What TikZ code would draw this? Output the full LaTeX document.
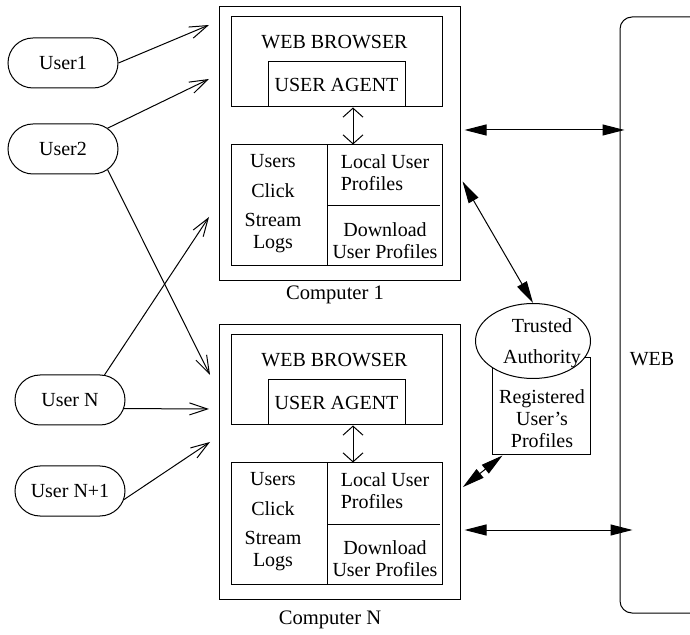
\documentclass[tikz,border=0pt]{standalone}
\usepackage{fontspec}
\setmainfont{Liberation Serif}
\usetikzlibrary{arrows.meta,shapes.geometric,shapes.misc}

\begin{document}
\begin{tikzpicture}[x=0.5pt,y=-0.5pt,line width=0.5pt]
	\tikzstyle{every node}+=[inner sep=0pt, font=\fontsize{10}{11}\selectfont]
	\tikzstyle{user}=[draw, rounded rectangle, minimum width=55pt, minimum height=25pt]
	\tikzstyle{box}=[draw, rectangle]
	\tikzstyle{toarr}=[-{Straight Barb[length=9pt,width=6pt]}]
	\tikzstyle{innerarr}=[{Straight Barb[length=4.5pt,width=10pt]}-{Straight Barb[length=4.5pt,width=10pt]}]
	\tikzstyle{netarr}=[{Triangle[length=11pt,width=5.5pt]}-{Triangle[length=11pt,width=5.5pt]}]
	\tikzstyle{complabel}=[font=\fontsize{10.3}{11}\selectfont]
	\useasboundingbox (0,0) rectangle (690,635);
	\node (user1) [user] at (63,63) {User1};
	\node (user2) [user] at (63,149) {User2};
	\node (userN) [user] at (70,400) {User N};
	\node (userN1) [user] at (70,491) {User N+1};
	\node (comp1) [box, minimum width=120.5pt, minimum height=137pt] at (339.5,144) {};
	\node (browser1) [box, minimum width=105.5pt, minimum height=45pt] at (336.5,62) {};
	\node (agent1) [box, minimum width=68.5pt, minimum height=22.5pt] at (336.5,84.5) {USER AGENT};
	\node (title1) at (334.5,42) {WEB BROWSER};
	\node (store1) [box, minimum width=105.5pt, minimum height=60.5pt] at (336.5,205.5) {};
	\draw (store1.north -| 327,0) -- (store1.south -| 327,0);
	\draw (327,206) -- (440,206);
	\node (logs1) [align=center] at (273,204) {Users\\[4pt]Click\\[3.5pt]Stream\\Logs};
	\node (local1) [align=left] at (385,173) {Local User\\Profiles};
	\node (down1) [align=center] at (385,241) {Download\\User Profiles};
	\node (label1) [complabel] at (335,295) {Computer 1};
	\node (compN) [box, minimum width=120.5pt, minimum height=137pt] at (339.5,462) {};
	\node (browserN) [box, minimum width=105.5pt, minimum height=45pt] at (336.5,380) {};
	\node (agentN) [box, minimum width=68.5pt, minimum height=22.5pt] at (336.5,402.5) {USER AGENT};
	\node (titleN) at (334.5,360) {WEB BROWSER};
	\node (storeN) [box, minimum width=105.5pt, minimum height=60.5pt] at (336.5,523.5) {};
	\draw (storeN.north -| 327,0) -- (storeN.south -| 327,0);
	\draw (327,524) -- (440,524);
	\node (logsN) [align=center] at (273,522) {Users\\[4pt]Click\\[3.5pt]Stream\\Logs};
	\node (localN) [align=left] at (385,491) {Local User\\Profiles};
	\node (downN) [align=center] at (385,559) {Download\\User Profiles};
	\node (labelN) [complabel] at (330,620) {Computer N};
	\node (reg) [box, minimum width=49pt, minimum height=48.5pt, fill=white] at (541,406.5) {};
	\node (reglabel) [align=center] at (542,419) {Registered\\User's\\Profiles};
	\node (trust) [draw, ellipse, minimum width=57.5pt, minimum height=37.5pt, fill=white] at (533,341) {};
	\node (trustlabel) [align=center] at (542,343) {Trusted\\[4.5pt]Authority};
	\node (web) [draw, rounded corners=6pt, minimum width=60pt, minimum height=298pt] at (680,315) {};
	\node (weblabel) at (652,359) {WEB};
	\coordinate (in1) at (209,25);
	\coordinate (in2) at (209,79);
	\coordinate (in3) at (209,217);
	\coordinate (in4) at (210,375);
	\coordinate (in5) at (209,409);
	\coordinate (in6) at (210,442);
	\draw [toarr] (user1.east) -- (in1);
	\draw [toarr] (user2.25) -- (in2);
	\draw [toarr] (user2.-25) -- (in4);
	\draw [toarr] (userN.36) -- (in3);
	\draw [toarr] (userN.-9) -- (in5);
	\draw [toarr] (userN1.-9) -- (in6);
	\draw [innerarr] (agent1.south -| 353,0) -- (store1.north -| 353,0);
	\draw [innerarr] (agentN.south -| 353,0) -- (storeN.north -| 353,0);
	\draw [netarr, shorten <=2pt, shorten >=-2.5pt] (comp1.east |- 0,130) -- (web.west |- 0,130);
	\draw [netarr, shorten <=2pt, shorten >=-6.5pt] (compN.east |- 0,530) -- (web.west |- 0,530);
	\draw [netarr, shorten <=2pt] (comp1.east |- 0,178) -- (trust.north);
	\draw [netarr, shorten >=1.5pt] ([xshift=5.5pt]reg.south west) -- (compN.east |- 0,489);
\end{tikzpicture}
\end{document}
